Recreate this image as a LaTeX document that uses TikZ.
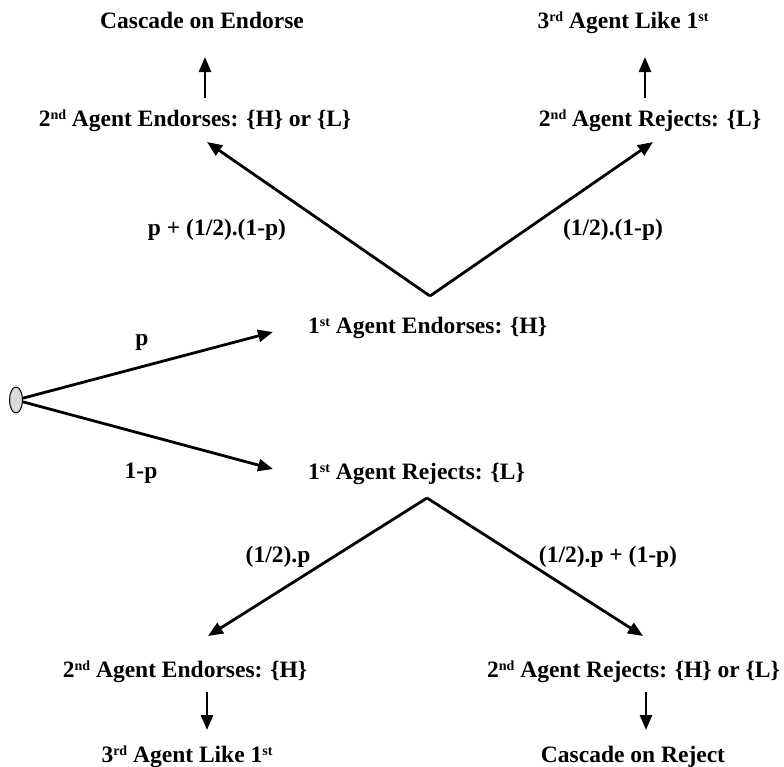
\documentclass[tikz,border=0pt]{standalone}
\usepackage{fontspec}
\setmainfont{Liberation Serif}
\usetikzlibrary{shapes.geometric,arrows.meta}

\newcommand{\ord}[1]{\raisebox{0.28em}{\fontsize{14}{14}\selectfont #1}}

\begin{document}
\begin{tikzpicture}[x=1pt, y=-1pt,
    >={Triangle[length=15pt,width=12pt]},
    every node/.style={font=\fontsize{23.5}{28}\selectfont\bfseries, inner sep=3pt,
        anchor=base, text height=0.7em, text depth=0.25em},
    arr/.style={->, line width=2.8pt},
    start/.style={ellipse, draw, fill=gray!30, line width=1pt, inner sep=0pt, anchor=center,
        minimum width=13pt, minimum height=26pt, text height=0pt, text depth=0pt}]
    \useasboundingbox (0,0) rectangle (784,766);

    % Chance node and first agent
    \node[start] (s) at (16,400) {};
    \node[anchor=base west] (e1) at (305,333) {1\ord{st} Agent Endorses: \{H\}};
    \node[anchor=base west] (r1) at (305,479) {1\ord{st} Agent Rejects: \{L\}};

    % Second agent
    \node (e2) at (195,126) {2\ord{nd} Agent Endorses: \{H\} or \{L\}};
    \node (r2) at (650,126) {2\ord{nd} Agent Rejects: \{L\}};
    \node (e3) at (185,677) {2\ord{nd} Agent Endorses: \{H\}};
    \node (r3) at (633.5,677) {2\ord{nd} Agent Rejects: \{H\} or \{L\}};

    % Outcomes
    \node (ce) at (202,28) {Cascade on Endorse};
    \node (t1) at (623,28) {3\ord{rd} Agent Like 1\ord{st}};
    \node (t3) at (187,762) {3\ord{rd} Agent Like 1\ord{st}};
    \node (cr) at (633,762) {Cascade on Reject};

    % Branch points
    \coordinate (up) at (430,296);
    \coordinate (lo) at (427,498);

    % Probabilities
    \node (pp)  at (142,345) {p};
    \node (pq)  at (141,478) {1-p};
    \node (pue) at (217,235) {p + (1/2).(1-p)};
    \node (pur) at (613,235) {(1/2).(1-p)};
    \node (ple) at (278,562) {(1/2).p};
    \node (plr) at (608,562) {(1/2).p + (1-p)};

    % Arrows
    \draw[arr] (s) -- ([shift={(-32,-1)}]e1.base west);
    \draw[arr] (s) -- ([shift={(-32,-10)}]r1.base west);
    \draw[arr] (up) -- ([shift={(12,16)}]e2.base);
    \draw[arr] (up) -- ([shift={(3,16)}]r2.base);
    \draw[arr] (lo) -- ([shift={(23,-41)}]e3.base);
    \draw[arr] (lo) -- ([shift={(9.5,-41)}]r3.base);
    \draw[arr] ([shift={(10,-28)}]e2.base) -- ([shift={(3,29)}]ce.base);
    \draw[arr] ([shift={(-5,-28)}]r2.base) -- ([shift={(22,29)}]t1.base);
    \draw[arr] ([shift={(22,15)}]e3.base) -- ([shift={(20,-32)}]t3.base);
    \draw[arr] ([shift={(12.5,15)}]r3.base) -- ([shift={(13,-32)}]cr.base);

\end{tikzpicture}
\end{document}
